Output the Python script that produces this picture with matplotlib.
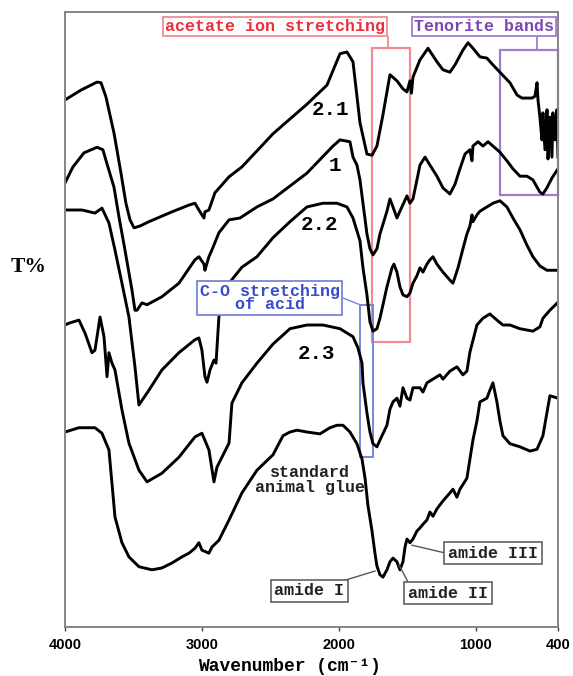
import matplotlib
matplotlib.use("Agg")
import matplotlib.pyplot as plt
from matplotlib.patches import Rectangle

# ---- FTIR spectra (wavenumber in cm-1, transmittance in arbitrary %) ----
wn_21 = [4000, 3883, 3766, 3737, 3701, 3642, 3591, 3555, 3525, 3496, 3452, 3387, 3219, 3095,
         3051, 3014, 2985, 2978, 2949, 2905, 2802, 2708, 2481, 2233, 2087, 1992, 1941, 1897,
         1868, 1846, 1795, 1758, 1722, 1678, 1627, 1576, 1532, 1503, 1481, 1470, 1459, 1408,
         1349, 1284, 1240, 1189, 1152, 1094, 1057, 1021, 970, 919, 875, 824, 751, 699, 663,
         590, 568, 553, 546, 532, 517, 510, 495, 480, 473, 459, 444, 437, 422, 408, 400]
t_21 = [85.7, 87.3, 88.6, 88.5, 86.2, 80.3, 73.8, 68.9, 66.2, 64.9, 65.2, 65.9, 67.5, 68.6,
        68.9, 67.5, 66.5, 67.5, 67.8, 70.6, 73.2, 74.8, 80.2, 85.0, 88.1, 93.2, 93.5, 91.9,
        86.3, 82.0, 76.9, 76.7, 78.2, 83.3, 89.8, 88.8, 87.5, 87.0, 88.8, 86.8, 89.4, 92.2,
        94.1, 91.9, 90.6, 90.2, 91.4, 93.8, 95.0, 94.1, 92.7, 92.5, 91.4, 90.2, 88.5, 86.5, 86.0,
        86.0, 86.3, 88.5, 85.7, 82.9, 79.2, 83.6, 77.6, 84.1, 76.1, 82.9, 76.4, 83.6, 79.2, 84.1, 76.4]

wn_1 = [4000, 3942, 3861, 3766, 3723, 3701, 3642, 3606, 3562, 3511, 3489, 3474, 3438, 3401,
        3292, 3168, 3051, 3022, 2985, 2978, 2949, 2927, 2876, 2802, 2722, 2598, 2481, 2233,
        2043, 1992, 1919, 1897, 1868, 1846, 1824, 1795, 1773, 1751, 1722, 1700, 1649, 1627,
        1605, 1576, 1554, 1503, 1481, 1459, 1430, 1408, 1371, 1335, 1284, 1240, 1189, 1152,
        1116, 1079, 1043, 1028, 1021, 984, 948, 911, 875, 824, 773, 729, 678, 627, 583, 532,
        510, 481, 444, 400]
t_1 = [72.2, 74.8, 77.1, 78.0, 77.6, 75.9, 71.5, 66.7, 61.3, 54.8, 51.5, 51.5, 52.7, 52.4,
       53.7, 55.9, 59.7, 60.2, 59.0, 58.0, 60.2, 61.3, 64.1, 66.2, 66.5, 68.3, 69.6, 73.8,
       78.2, 79.2, 78.9, 76.4, 75.1, 72.7, 68.9, 63.9, 61.5, 60.5, 61.5, 63.9, 67.6, 69.6,
       68.3, 66.5, 67.6, 70.1, 68.9, 69.6, 72.7, 75.1, 76.4, 75.1, 73.3, 71.4, 70.4, 72.0,
       74.5, 76.9, 77.6, 75.8, 78.2, 78.9, 78.2, 78.9, 78.2, 77.2, 75.8, 74.5, 73.3, 73.3, 72.7, 70.7,
       70.4, 71.4, 73.0, 74.5]

wn_22 = [4000, 3876, 3781, 3730, 3679, 3635, 3584, 3533, 3489, 3460, 3387, 3292, 3168, 3051,
         3022, 3000, 2978, 2963, 2941, 2912, 2897, 2876, 2854, 2802, 2708, 2598, 2481, 2357,
         2233, 2116, 2014, 1941, 1897, 1846, 1824, 1795, 1773, 1751, 1722, 1700, 1649, 1612,
         1598, 1576, 1554, 1532, 1503, 1481, 1459, 1430, 1408, 1386, 1357, 1335, 1313, 1284,
         1240, 1189, 1167, 1130, 1094, 1065, 1043, 1028, 1021, 992, 970, 919, 875, 824, 773,
         729, 678, 627, 583, 532, 481, 400]
t_22 = [67.8, 67.8, 67.3, 68.1, 65.7, 61.3, 55.9, 50.4, 42.3, 36.1, 38.5, 41.8, 44.6, 46.7,
        47.0, 45.0, 40.7, 39.8, 41.8, 43.4, 42.9, 50.4, 53.7, 55.9, 58.5, 60.2, 63.3, 65.9,
        68.3, 68.9, 68.9, 68.3, 66.5, 62.8, 58.4, 54.0, 49.6, 48.1, 48.5, 50.2, 55.3, 58.4,
        59.0, 57.7, 55.3, 54.0, 53.7, 54.3, 55.9, 57.1, 58.4, 57.7, 59.0, 59.7, 60.2, 59.0,
        57.7, 56.4, 55.9, 58.4, 61.5, 63.9, 65.2, 67.0, 65.9, 67.0, 67.6, 68.3, 68.9, 69.3, 68.3,
        66.5, 64.6, 62.1, 60.2, 58.7, 58.0, 58.0]

wn_23 = [4000, 3971, 3898, 3854, 3803, 3781, 3744, 3715, 3693, 3679, 3657, 3635, 3584, 3533,
         3460, 3401, 3292, 3168, 3051, 3000, 2949, 2912, 2890, 2854, 2802, 2781, 2708, 2598,
         2481, 2357, 2233, 2116, 1992, 1897, 1861, 1831, 1824, 1795, 1773, 1751, 1722, 1700,
         1649, 1627, 1605, 1576, 1554, 1532, 1503, 1481, 1459, 1408, 1386, 1357, 1313, 1262,
         1240, 1189, 1138, 1094, 1065, 1043, 992, 948, 897, 846, 802, 751, 678, 583, 532, 510,
         459, 400]
t_23 = [49.1, 49.4, 49.9, 47.8, 44.6, 45.0, 50.4, 47.2, 40.7, 44.6, 42.9, 41.8, 35.3, 29.9,
        25.5, 23.6, 25.0, 27.6, 30.9, 31.5, 28.8, 23.6, 26.0, 27.6, 29.9, 36.4, 39.7, 42.9,
        46.0, 48.5, 49.1, 49.1, 48.5, 47.2, 45.4, 42.9, 39.7, 34.8, 31.7, 29.8, 29.3, 30.4,
        32.8, 35.4, 36.6, 37.2, 35.9, 38.9, 37.2, 36.9, 38.9, 38.9, 38.2, 39.7, 40.3, 41.0,
        40.3, 41.6, 42.3, 41.0, 41.6, 44.7, 49.1, 50.2, 50.9, 49.9, 49.1, 49.1, 48.5, 48.1, 48.8, 50.2,
        51.5, 52.8]

wn_glue = [4000, 3898, 3781, 3730, 3679, 3657, 3635, 3584, 3533, 3460, 3365, 3292, 3219, 3146,
           3095, 3051, 3022, 3000, 2949, 2927, 2876, 2802, 2708, 2598, 2481, 2408, 2357, 2306,
           2233, 2138, 2065, 2014, 1970, 1919, 1868, 1831, 1809, 1788, 1758, 1736, 1722, 1700,
           1678, 1649, 1627, 1605, 1576, 1554, 1532, 1517, 1503, 1481, 1459, 1430, 1408, 1386,
           1357, 1335, 1313, 1284, 1240, 1189, 1167, 1138, 1116, 1065, 1043, 1021, 992, 970,
           919, 897, 875, 846, 824, 802, 751, 678, 605, 553, 510, 481, 459, 400]
t_glue = [31.7, 32.4, 32.4, 31.5, 28.8, 23.4, 17.9, 13.7, 11.4, 9.8, 9.3, 9.6, 10.4, 11.4,
          12.0, 12.8, 13.7, 12.5, 12.0, 13.0, 14.1, 17.4, 21.8, 25.5, 28.0, 31.1, 31.7, 32.0,
          31.7, 31.4, 32.4, 32.8, 32.8, 31.7, 29.8, 27.3, 24.2, 19.8, 15.6, 11.9, 9.9, 8.5,
          8.1, 9.3, 10.6, 11.2, 10.6, 9.3, 10.6, 13.0, 14.3, 13.7, 14.3, 15.6, 16.1, 16.7,
          17.4, 18.7, 18.0, 19.2, 20.5, 21.8, 22.4, 21.1, 22.4, 24.2, 27.3, 30.4, 33.5, 36.6,
          37.2, 38.5, 39.7, 36.6, 33.5, 31.1, 29.8, 29.3, 28.6, 28.9, 31.1, 34.8, 37.6, 37.2]

x_ticks = [4000, 3000, 2000, 1000, 400]

MONO = ["Liberation Mono", "DejaVu Sans Mono"]
RED_TXT, RED_EDGE = "#e8303c", "#f28a92"
PUR_TXT, PUR_EDGE = "#7a48b4", "#a07cd0"
BLU_TXT, BLU_EDGE = "#3a4cc8", "#7886da"

fig = plt.figure(figsize=(5.73, 6.76), dpi=100)
ax = fig.add_axes([0.1134, 0.0725, 0.8604, 0.9098])

for wn, t in [(wn_21, t_21), (wn_1, t_1), (wn_22, t_22), (wn_23, t_23), (wn_glue, t_glue)]:
    ax.plot(wn, t, color="black", lw=2.1, solid_joinstyle="round")

ax.set_xlim(4000, 400)
ax.set_ylim(0, 100)
ax.set_yticks([])
ax.set_xticks(x_ticks)
ax.set_xticklabels([str(v) for v in x_ticks],
                   fontdict={"family": ["Liberation Sans", "DejaVu Sans"],
                             "weight": "bold", "size": 10.5})
ax.tick_params(axis="x", length=3, width=1, color="#444444", pad=5)
for sp in ax.spines.values():
    sp.set_color("#858585")
    sp.set_linewidth(1.4)

ax.set_xlabel("Wavenumber (cm\u207b\u00b9)", family=MONO, weight="bold", fontsize=13)
ax.xaxis.label.set_va("center")
ax.xaxis.set_label_coords(0.455, -0.064)
fig.text(0.019, 1 - 267 / 676, "T%", family=["Liberation Serif", "DejaVu Serif"],
         weight="bold", fontsize=15.5, va="center", ha="left")

# curve names
for txt, x, y in [("2.1", 2058, 84.2), ("1", 2028, 75.1), ("2.2", 2145, 65.5), ("2.3", 2160, 44.4)]:
    ax.text(x, y, txt, family=MONO, weight="bold", fontsize=15, ha="center", va="center")
ax.text(2211, 23.9, "standard\nanimal glue", family=MONO, weight="bold", fontsize=12,
        ha="center", va="center", linespacing=1.0, color="#222222")

# band regions
ax.add_patch(Rectangle((1758, 46.3), 1481 - 1758, 94.1 - 46.3, fill=False,
                       edgecolor=RED_EDGE, lw=1.6))
ax.plot([1641, 1641], [94.1, 95.9], color=RED_EDGE, lw=1.3)
ax.text(2467, 97.6, "acetate ion stretching", family=MONO, weight="bold", fontsize=12,
        color=RED_TXT, ha="center", va="center",
        bbox=dict(boxstyle="square,pad=0.12", fc="white", ec=RED_EDGE, lw=1.3))

ax.add_patch(Rectangle((823, 70.2), 400 - 823, 93.8 - 70.2, fill=False,
                       edgecolor=PUR_EDGE, lw=1.6, clip_on=False))
ax.plot([553, 553], [93.8, 95.9], color=PUR_EDGE, lw=1.3)
ax.text(937, 97.6, "Tenorite bands", family=MONO, weight="bold", fontsize=12,
        color=PUR_TXT, ha="center", va="center",
        bbox=dict(boxstyle="square,pad=0.12", fc="white", ec=PUR_EDGE, lw=1.3))

ax.add_patch(Rectangle((1846, 27.6), 1751 - 1846, 52.4 - 27.6, fill=False,
                       edgecolor=BLU_EDGE, lw=1.4))
ax.plot([1970, 1846], [53.5, 52.4], color=BLU_EDGE, lw=1.0)
ax.text(2503, 53.5, "C-O stretching\nof acid", family=MONO, weight="bold", fontsize=12,
        color=BLU_TXT, ha="center", va="center", linespacing=0.85,
        bbox=dict(boxstyle="square,pad=0.15", fc="white", ec=BLU_EDGE, lw=1.3))

# amide assignments on the glue spectrum
for txt, (lx, ly), (x0, y0), (x1, y1) in [
        ("amide I", (2215, 5.9), (1955, 7.6), (1736, 9.1)),
        ("amide II", (1203, 5.5), (1488, 7.0), (1561, 10.1)),
        ("amide III", (875, 12.0), (1218, 12.0), (1466, 13.3))]:
    ax.plot([x0, x1], [y0, y1], color="#555555", lw=1.0)
    ax.text(lx, ly, txt, family=MONO, weight="bold", fontsize=12, ha="center", va="center",
            color="#222222",
            bbox=dict(boxstyle="square,pad=0.22", fc="white", ec="#555555", lw=1.1))

fig.savefig("out.png", dpi=100)
